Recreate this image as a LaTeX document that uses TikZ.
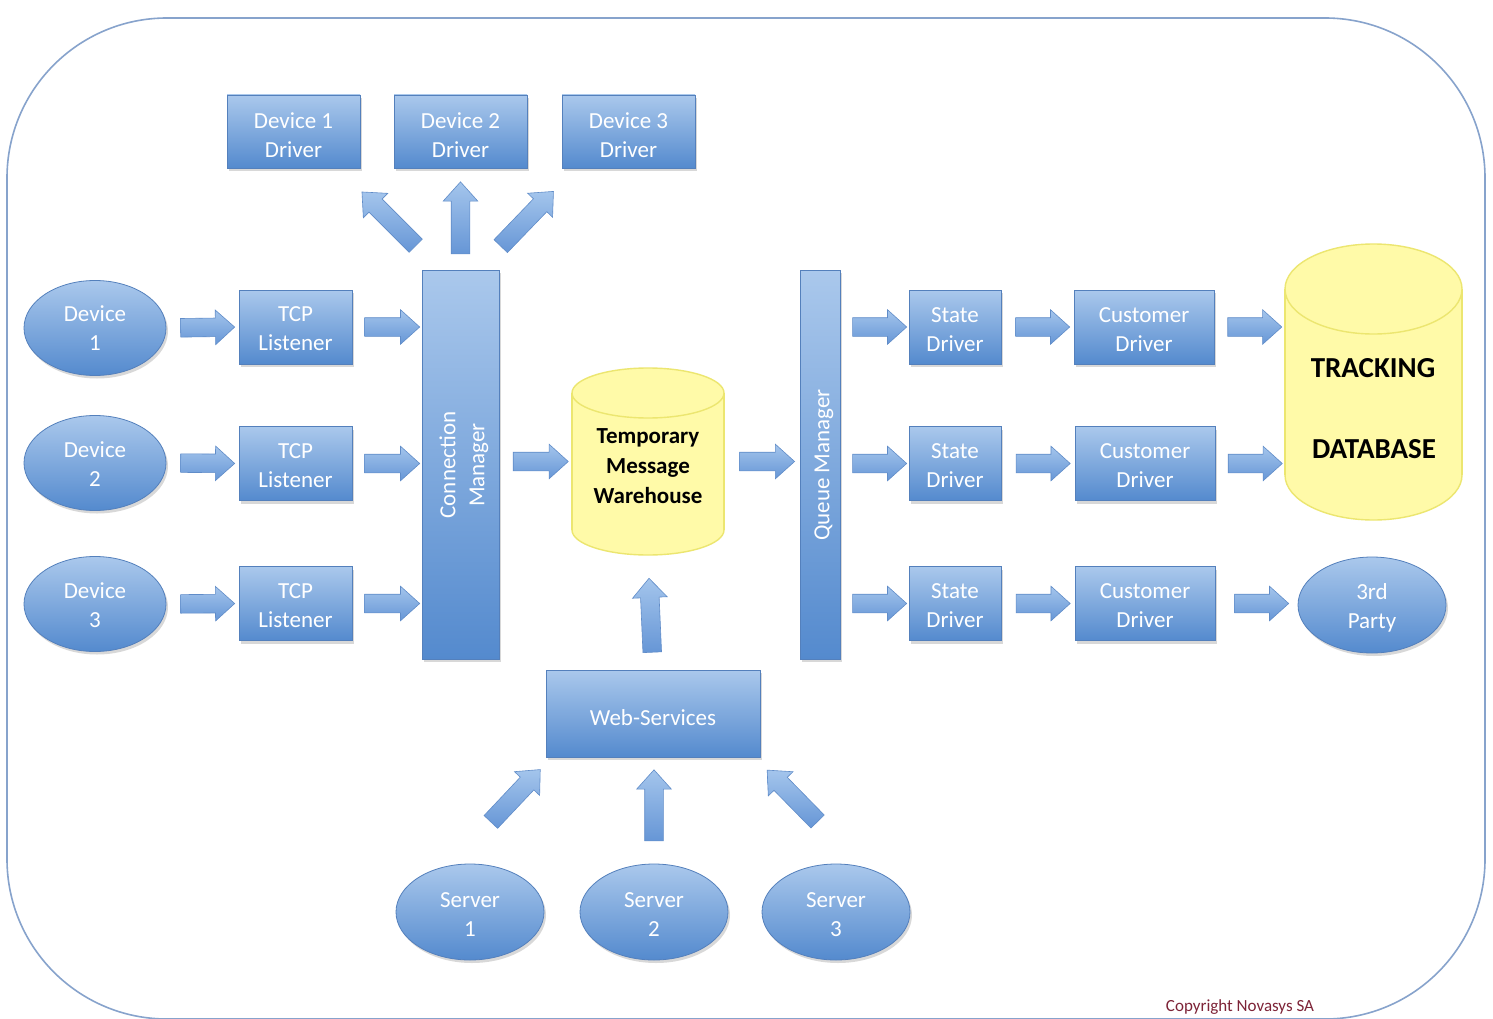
\documentclass[tikz,border=0pt]{standalone}
\usepackage{fontspec}
\setmainfont{Carlito}
\usetikzlibrary{shapes.geometric,shapes.arrows,shadows}
\definecolor{boxtop}{RGB}{170,200,236}
\definecolor{boxbot}{RGB}{84,138,206}
\definecolor{boxline}{RGB}{84,128,188}
\definecolor{arrtop}{RGB}{164,197,236}
\definecolor{arrbot}{RGB}{102,150,214}
\definecolor{arrline}{RGB}{96,140,200}
\definecolor{dbfill}{RGB}{255,250,168}
\definecolor{dbline}{RGB}{236,230,112}
\definecolor{framecol}{RGB}{135,163,204}
\definecolor{copycol}{RGB}{125,35,55}
\newcommand\boxtxt[2][3.5pt]{\raisebox{-#1}[\height][\depth]{\begin{tabular}{@{}c@{}}#2\end{tabular}}}
\tikzset{
  bluebox/.style={draw=boxline, line width=0.8pt, top color=boxtop, bottom color=boxbot,
    text=white, font=\fontsize{23}{29}\selectfont, align=center, inner sep=0pt,
    drop shadow={shadow xshift=2pt, shadow yshift=-3pt, opacity=0.3}},
  rectbox/.style={bluebox, rectangle},
  ellbox/.style={bluebox, ellipse, minimum width=142pt, minimum height=95pt},
  barrow/.style={single arrow, draw=arrline, line width=0.6pt, top color=arrtop, bottom color=arrbot,
    minimum width=34pt, single arrow head extend=8pt, single arrow tip angle=84,
    inner xsep=0pt, inner ysep=9pt, sloped, allow upside down},
  dblabel/.style={text=black, font=\bfseries\fontsize{23}{30}\selectfont, align=center},
  vlabel/.style={rotate=90, text=white, font=\fontsize{23}{29}\selectfont, align=center},
}
\begin{document}
\begin{tikzpicture}[x=1pt, y=-1pt]
\useasboundingbox (0,0) rectangle (1493,1019);
\fill[white] (0,0) rectangle (1493,1019);
% frame
\draw[framecol, line width=1.6pt, rounded corners=160pt] (7,18) rectangle (1485,1019);

% device drivers
\node[rectbox, minimum width=133pt, minimum height=73pt] (d1drv) at (293.5,131.5) {\boxtxt[6pt]{Device 1\\Driver}};
\node[rectbox, minimum width=133pt, minimum height=73pt] (d2drv) at (460.5,131.5) {\boxtxt[6pt]{Device 2\\Driver}};
\node[rectbox, minimum width=133pt, minimum height=73pt] (d3drv) at (628.5,131.5) {\boxtxt[6pt]{Device 3\\Driver}};

% devices
\node[ellbox] (dev1) at (95,328) {\boxtxt[2pt]{Device\\1}};
\node[ellbox] (dev2) at (95,463) {\boxtxt[3pt]{Device\\2}};
\node[ellbox] (dev3) at (95,604) {\boxtxt[3pt]{Device\\3}};

% TCP listeners
\node[rectbox, minimum width=113pt, minimum height=74pt] (tcp1) at (295.5,327) {\boxtxt[3.5pt]{TCP\\Listener}};
\node[rectbox, minimum width=113pt, minimum height=74pt] (tcp2) at (295.5,463.5) {\boxtxt[3.5pt]{TCP\\Listener}};
\node[rectbox, minimum width=113pt, minimum height=74pt] (tcp3) at (295.5,603.5) {\boxtxt[3.5pt]{TCP\\Listener}};

% connection manager
\node[rectbox, minimum width=77pt, minimum height=389pt] (cm) at (460.5,464.5) {};
\node[vlabel] (cmlab) at (464,465) {Connection\\Manager};

% queue manager
\node[rectbox, minimum width=40pt, minimum height=389pt] (qm) at (820,464.5) {};
\node[vlabel] (qmlab) at (824,465) {Queue Manager};

% temporary message warehouse (cylinder)
\node[minimum width=152pt, minimum height=187pt, inner sep=0pt] (tmw) at (648,461.5) {};
\fill[dbfill] (572,393) rectangle (724,530);
\fill[dbfill] (648,530) ellipse [x radius=76pt, y radius=25pt];
\begin{scope}
  \clip (560,530) rectangle (740,570);
  \draw[dbline, line width=1.4pt] (648,530) ellipse [x radius=76pt, y radius=25pt];
\end{scope}
\draw[dbline, line width=1.4pt] (572,393) -- (572,530) (724,393) -- (724,530);
\draw[dbline, line width=1.4pt, fill=dbfill] (648,393) ellipse [x radius=76pt, y radius=25pt];
\node[dblabel] (tmwlab) at (648,466) {Temporary\\Message\\Warehouse};

% tracking database (cylinder)
\node[minimum width=177pt, minimum height=276pt, inner sep=0pt] (db) at (1373.5,382) {};
\fill[dbfill] (1285,289) rectangle (1462,475);
\fill[dbfill] (1373.5,475) ellipse [x radius=88.5pt, y radius=45pt];
\begin{scope}
  \clip (1270,475) rectangle (1480,530);
  \draw[dbline, line width=1.4pt] (1373.5,475) ellipse [x radius=88.5pt, y radius=45pt];
\end{scope}
\draw[dbline, line width=1.4pt] (1285,289) -- (1285,475) (1462,289) -- (1462,475);
\draw[dbline, line width=1.4pt, fill=dbfill] (1373.5,289) ellipse [x radius=88.5pt, y radius=45pt];
\node[text=black, font=\bfseries\fontsize{29}{35}\selectfont] (dbl1) at (1373,368) {TRACKING};
\node[text=black, font=\bfseries\fontsize{29}{35}\selectfont] (dbl2) at (1374,449) {DATABASE};

% web services
\node[rectbox, minimum width=214pt, minimum height=87pt] (ws) at (653,713.5) {\boxtxt[6pt]{Web-Services}};

% servers
\node[ellbox, minimum width=148pt, minimum height=96pt] (srv1) at (470,912) {\boxtxt[4pt]{Server\\1}};
\node[ellbox, minimum width=148pt, minimum height=96pt] (srv2) at (654,912) {\boxtxt[4pt]{Server\\2}};
\node[ellbox, minimum width=148pt, minimum height=96pt] (srv3) at (836,912) {\boxtxt[4pt]{Server\\3}};

% state drivers
\node[rectbox, minimum width=92pt, minimum height=74pt] (st1) at (955,327) {\boxtxt[4pt]{State\\Driver}};
\node[rectbox, minimum width=92pt, minimum height=74pt] (st2) at (955,463.5) {\boxtxt[4pt]{State\\Driver}};
\node[rectbox, minimum width=92pt, minimum height=74pt] (st3) at (955,603.5) {\boxtxt[4pt]{State\\Driver}};

% customer drivers
\node[rectbox, minimum width=140pt, minimum height=74pt] (cu1) at (1144,327) {\boxtxt[4pt]{Customer\\Driver}};
\node[rectbox, minimum width=140pt, minimum height=74pt] (cu2) at (1145,463.5) {\boxtxt[4pt]{Customer\\Driver}};
\node[rectbox, minimum width=140pt, minimum height=74pt] (cu3) at (1145,603.5) {\boxtxt[4pt]{Customer\\Driver}};

% 3rd party
\node[ellbox, minimum width=148pt, minimum height=96pt] (third) at (1372,605) {\boxtxt[3pt]{3rd\\Party}};

% copyright
\node[text=copycol, font=\fontsize{17}{20}\selectfont] (copy) at (1240,1007) {Copyright Novasys SA};

% ---- block arrows ----
% devices -> TCP
\path (dev1.east) -- node[barrow, minimum height=54pt] {} (tcp1.west);
\path (dev2.east) -- node[barrow, minimum height=54pt] {} (tcp2.west);
\path (dev3.east) -- node[barrow, minimum height=54pt] {} (tcp3.west);
% TCP -> CM
\path (tcp1.east) -- node[barrow, minimum height=55pt] {} (tcp1.east -| cm.west);
\path (tcp2.east) -- node[barrow, minimum height=55pt] {} (tcp2.east -| cm.west);
\path (tcp3.east) -- node[barrow, minimum height=55pt] {} (tcp3.east -| cm.west);
% CM -> TMW -> QM
\path (cm.east |- tmw.west) -- node[barrow, minimum height=55pt] {} (tmw.west);
\path (tmw.east) -- node[barrow, minimum height=55pt] {} (tmw.east -| qm.west);
% QM -> state
\path (st1.west -| qm.east) -- node[barrow, minimum height=54pt] {} (st1.west);
\path (st2.west -| qm.east) -- node[barrow, minimum height=54pt] {} (st2.west);
\path (st3.west -| qm.east) -- node[barrow, minimum height=54pt] {} (st3.west);
% state -> customer
\path (st1.east) -- node[barrow, minimum height=54pt] {} (st1.east -| cu1.west);
\path (st2.east) -- node[barrow, minimum height=54pt] {} (st2.east -| cu2.west);
\path (st3.east) -- node[barrow, minimum height=54pt] {} (st3.east -| cu3.west);
% customer -> db / 3rd party
\path (cu1.east) -- node[barrow, minimum height=54pt] {} (cu1.east -| db.west);
\path (cu2.east) -- node[barrow, minimum height=54pt] {} (cu2.east -| db.west);
\path (cu3.east) -- node[barrow, minimum height=54pt] {} (cu3.east -| third.west);
% CM -> device drivers
\coordinate (cmL) at (420,250);
\coordinate (d1tip) at (365,195);
\coordinate (cmR) at (497,250);
\coordinate (d3tip) at (550,195);
\path (cmL) -- node[barrow, minimum height=76pt] {} (d1tip);
\path (cm.north -| d2drv.south) -- node[barrow, minimum height=72pt, pos=0.46] {} (d2drv.south);
\path (cmR) -- node[barrow, minimum height=76pt] {} (d3tip);
% WS -> TMW
\path (ws.north) -- node[barrow, minimum height=74pt, pos=0.43] {} (tmw.south);
% servers -> WS
\coordinate (s1tail) at (487,826);
\coordinate (s1tip) at (537,773);
\coordinate (s3tail) at (822,826);
\coordinate (s3tip) at (770,773);
\path (s1tail) -- node[barrow, minimum height=72pt] {} (s1tip);
\path (srv2.north) -- node[barrow, minimum height=71pt] {} (srv2.north |- ws.south);
\path (s3tail) -- node[barrow, minimum height=72pt] {} (s3tip);
\end{tikzpicture}
\end{document}
